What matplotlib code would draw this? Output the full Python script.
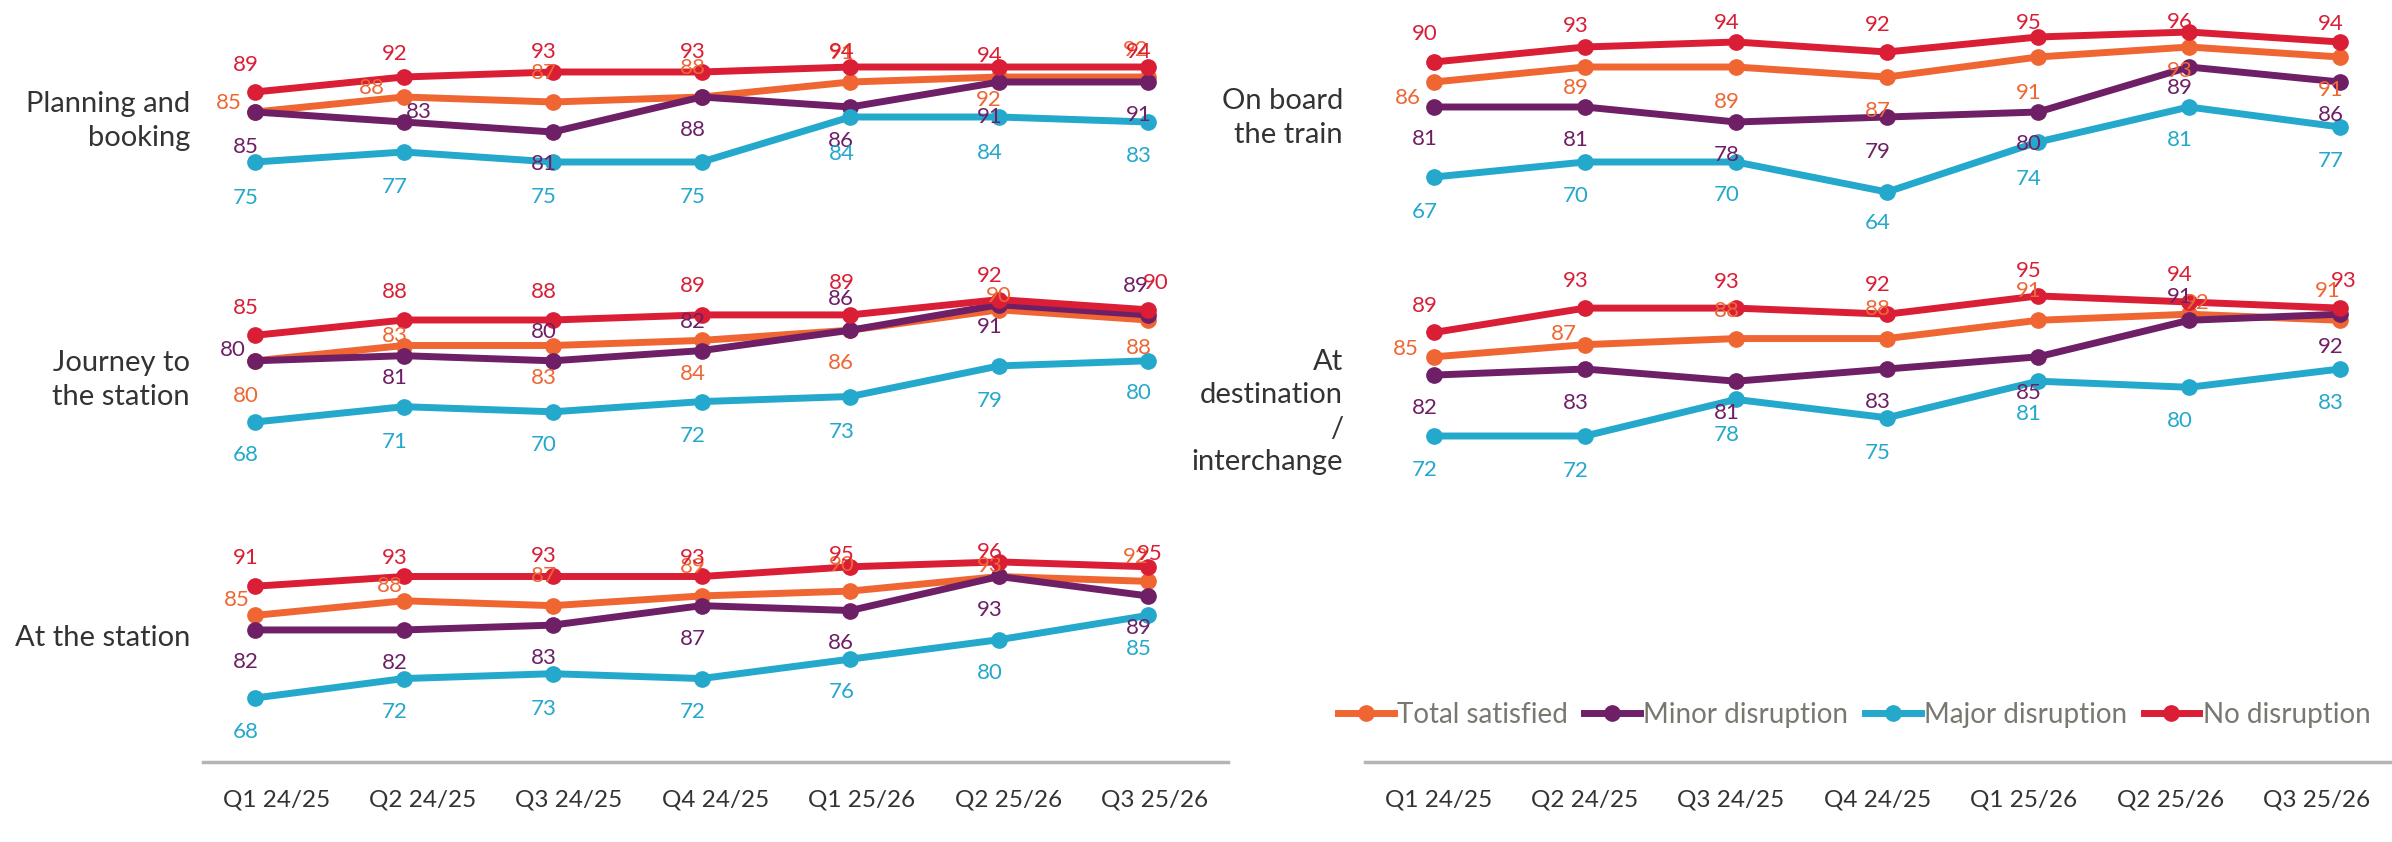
import matplotlib.pyplot as plt
from matplotlib.lines import Line2D

# quarters shown along both x axes
quarters = ['Q1 24/25', 'Q2 24/25', 'Q3 24/25', 'Q4 24/25', 'Q1 25/26', 'Q2 25/26', 'Q3 25/26']
series_keys = ['total', 'minor', 'major', 'none']
series_names = ['Total satisfied', 'Minor disruption', 'Major disruption', 'No disruption']

# satisfaction (%) per journey stage
planning_total = [85, 88, 87, 88, 91, 92, 92]
planning_minor = [85, 83, 81, 88, 86, 91, 91]
planning_major = [75, 77, 75, 75, 84, 84, 83]
planning_none = [89, 92, 93, 93, 94, 94, 94]

journey_total = [80, 83, 83, 84, 86, 90, 88]
journey_minor = [80, 81, 80, 82, 86, 91, 89]
journey_major = [68, 71, 70, 72, 73, 79, 80]
journey_none = [85, 88, 88, 89, 89, 92, 90]

station_total = [85, 88, 87, 89, 90, 93, 92]
station_minor = [82, 82, 83, 87, 86, 93, 89]
station_major = [68, 72, 73, 72, 76, 80, 85]
station_none = [91, 93, 93, 93, 95, 96, 95]

onboard_total = [86, 89, 89, 87, 91, 93, 91]
onboard_minor = [81, 81, 78, 79, 80, 89, 86]
onboard_major = [67, 70, 70, 64, 74, 81, 77]
onboard_none = [90, 93, 94, 92, 95, 96, 94]

dest_total = [85, 87, 88, 88, 91, 92, 91]
dest_minor = [82, 83, 81, 83, 85, 91, 92]
dest_major = [72, 72, 78, 75, 81, 80, 83]
dest_none = [89, 93, 93, 92, 95, 94, 93]

COLORS = {'total': '#EF6632', 'minor': '#6E1F66', 'major': '#24A8CC', 'none': '#D91E36'}
TEXT = '#333333'
LEGEND_TEXT = '#78786f'
AXIS_GREY = '#b4b4b4'

W, H = 2392, 842
plt.rcParams['font.family'] = ['Lato', 'DejaVu Sans']
fig = plt.figure(figsize=(W / 100, H / 100), dpi=100)


def rect(x0, x1, y0, y1):
    # pixel box (origin top-left) -> figure fraction
    return [x0 / W, 1 - y1 / H, (x1 - x0) / W, (y1 - y0) / H]


# column geometry in pixels: axis extent and first/last point
COLS = {
    'left': dict(x0=203, x1=1228, first=255, last=1148, title_x=190),
    'right': dict(x0=1365, x1=2390, first=1434, last=2340, title_x=1343),
}

# label offsets in pixels (positive = below the point)
planning_dy = {'total': [-9, -9, -29, -29, -29, 23, -27],
               'minor': [35, -10, 32, 33, 34, 35, 33],
               'major': [36, 35, 35, 35, 37, 36, 34],
               'none': [-27, -23, -20, -20, -15, -11, -15]}
planning_dx = {('total', 0): -26, ('total', 1): -32, ('total', 5): -10,
               ('total', 6): -12, ('minor', 1): 15}

journey_dy = {'total': [35, -9, 32, 34, 33, -14, 28],
              'minor': [-11, 22, -29, -29, -31, 22, -29],
              'major': [33, 35, 33, 34, 35, 35, 32],
              'none': [-27, -28, -28, -29, -32, -24, -27]}
journey_dx = {('minor', 0): -22, ('minor', 6): -12, ('none', 6): 8, ('total', 5): 0}

station_dy = {'total': [-15, -15, -30, -29, -26, -11, -24],
              'minor': [32, 33, 33, 33, 32, 34, 32],
              'major': [34, 33, 35, 33, 33, 33, 34],
              'none': [-28, -19, -20, -19, -12, -10, -13]}
station_dx = {('total', 0): -18, ('total', 1): -14, ('total', 6): -12, ('none', 6): 2}

onboard_dy = {'total': [16, 21, 35, 34, 36, 24, 33],
              'minor': [32, 33, 33, 35, 32, 21, 33],
              'major': [35, 34, 33, 31, 37, 33, 34],
              'none': [-28, -21, -19, -27, -14, -10, -18]}
onboard_dx = {('total', 0): -26}

dest_dy = {'total': [-8, -11, -28, -30, -29, -11, -29],
           'minor': [33, 34, 32, 33, 36, -23, 33],
           'major': [34, 35, 36, 35, 33, 34, 34],
           'none': [-26, -27, -26, -29, -25, -27, -27]}
dest_dx = {('total', 0): -28, ('total', 1): -21, ('total', 5): 8,
           ('total', 6): -12, ('none', 6): 4}

# title, column, band (top, bottom px), reference value/pixel, px per point, title y
panels = [
    ('Planning and\nbooking', 'left', (0, 215), (75, 162), 5.0, 121,
     [planning_total, planning_minor, planning_major, planning_none], planning_dy, planning_dx),
    ('Journey to\nthe station', 'left', (215, 470), (68, 422), 5.1, 380,
     [journey_total, journey_minor, journey_major, journey_none], journey_dy, journey_dx),
    ('At the station', 'left', (470, 760), (68, 698), 4.86, 638,
     [station_total, station_minor, station_major, station_none], station_dy, station_dx),
    ('On board\nthe train', 'right', (0, 240), (64, 192), 5.0, 118,
     [onboard_total, onboard_minor, onboard_major, onboard_none], onboard_dy, onboard_dx),
    ('At\ndestination\n/\ninterchange', 'right', (240, 500), (72, 436), 6.09, 412,
     [dest_total, dest_minor, dest_major, dest_none], dest_dy, dest_dx),
]

x = list(range(len(quarters)))

for title, col, (top, bot), (v_ref, y_ref), k, title_y, values, dy, dx in panels:
    c = COLS[col]
    ax = fig.add_axes(rect(c['x0'], c['x1'], top, bot))
    step = (c['last'] - c['first']) / 6
    ax.set_xlim(-(c['first'] - c['x0']) / step, 6 + (c['x1'] - c['last']) / step)
    ax.set_ylim(v_ref - (bot - y_ref) / k, v_ref + (y_ref - top) / k)
    ax.axis('off')

    for key, vals in zip(series_keys, values):
        ax.plot(x, vals, color=COLORS[key], lw=5, marker='o', ms=11,
                solid_capstyle='round', clip_on=False)
        for i, v in enumerate(vals):
            ox = dx.get((key, i), -9)
            oy = dy[key][i]
            ax.annotate(str(v), (i, v), xytext=(ox, -oy), textcoords='offset pixels',
                        ha='center', va='center', fontsize=16, color=COLORS[key],
                        annotation_clip=False)

    fig.text(c['title_x'] / W, 1 - title_y / H, title, ha='right', va='center',
             multialignment='right', fontsize=21, color=TEXT, linespacing=1.36)

# category axes with grey baseline under each column
for col in ('left', 'right'):
    c = COLS[col]
    axx = fig.add_axes(rect(c['x0'], c['x1'], 700, 762))
    axx.set_xlim(-0.5, 6.5)
    axx.set_ylim(0, 1)
    axx.patch.set_visible(False)
    for s in ('top', 'left', 'right'):
        axx.spines[s].set_visible(False)
    axx.spines['bottom'].set_color(AXIS_GREY)
    axx.spines['bottom'].set_linewidth(2.5)
    axx.set_yticks([])
    axx.set_xticks(x)
    axx.set_xticklabels(quarters, fontsize=17.5, color=TEXT)
    axx.tick_params(axis='x', length=0, pad=20)

handles = [Line2D([], [], color=COLORS[k], lw=5, marker='o', ms=11) for k in series_keys]
fig.legend(handles, series_names, loc='center left', bbox_to_anchor=(1338 / W, 1 - 715 / H),
           ncol=4, frameon=False, handlelength=2.0, handletextpad=0.12, columnspacing=0.6,
           fontsize=20, labelcolor=LEGEND_TEXT, borderaxespad=0, borderpad=0)

fig.savefig('out.png', dpi=100)
